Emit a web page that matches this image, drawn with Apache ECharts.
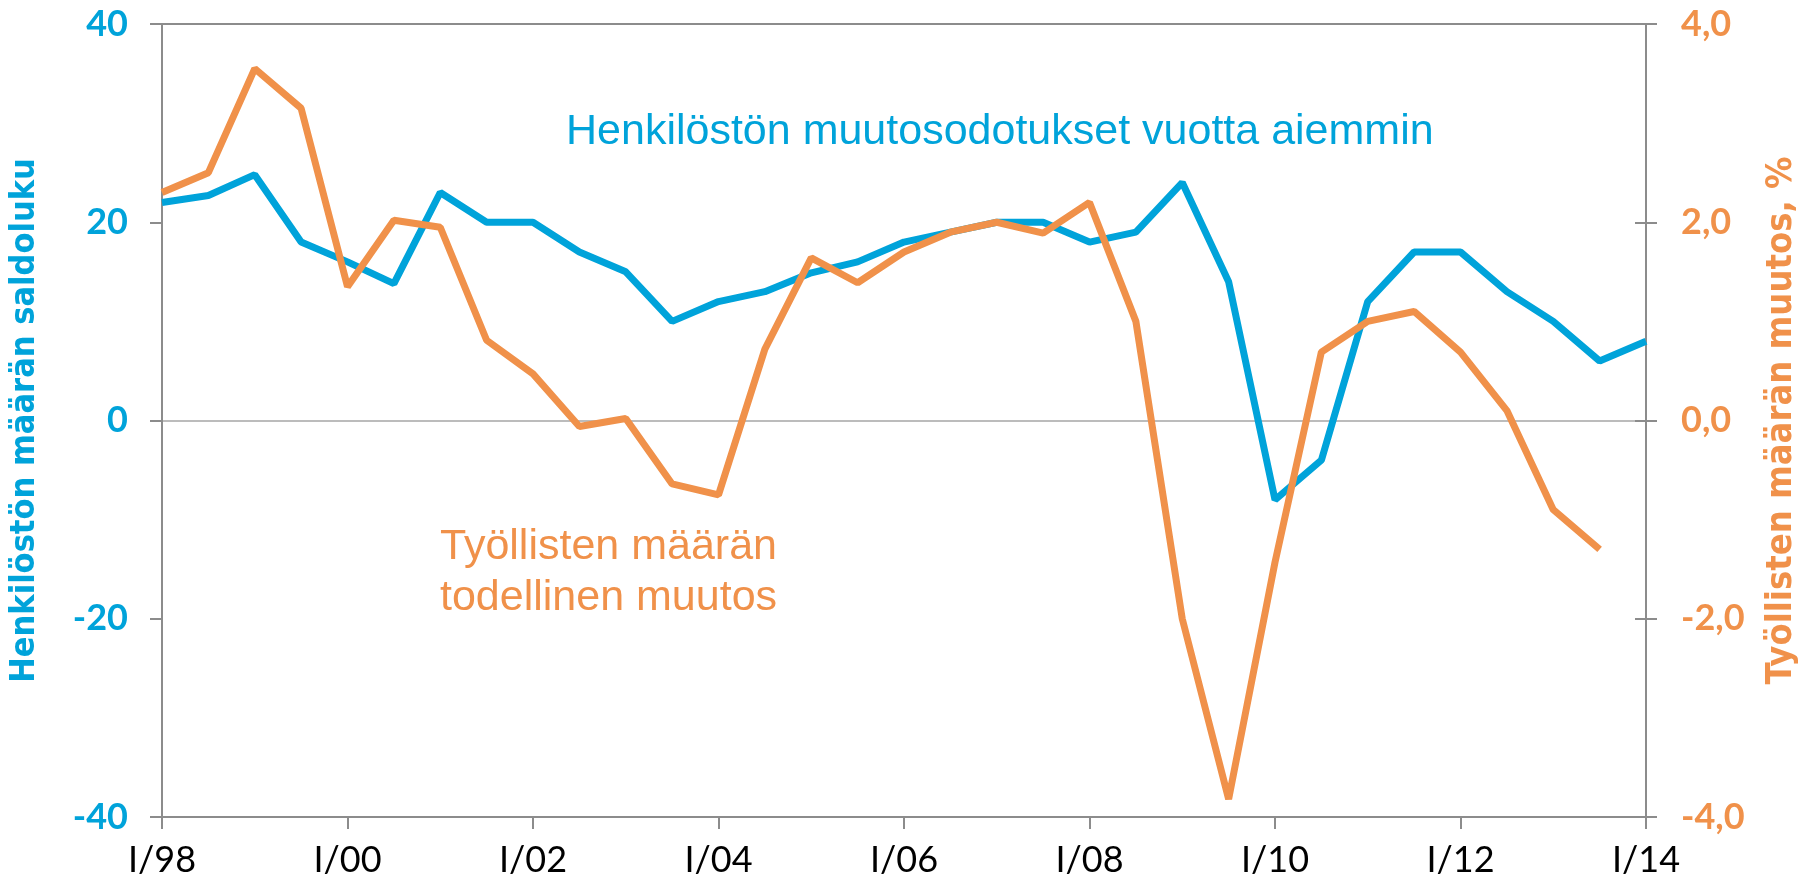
<!DOCTYPE html>
<html>
<head>
<meta charset="utf-8">
<script src="https://cdn.jsdelivr.net/npm/echarts@6/dist/echarts.min.js"></script>
<style>
  html, body { margin: 0; padding: 0; background: #fff; }
  #chart { width: 1808px; height: 879px; }
</style>
</head>
<body>
<div id="chart"></div>
<script>
// puolivuosittaiset havainnot I/98 ... I/14
var periods = [
  'I/98','III/98','I/99','III/99','I/00','III/00','I/01','III/01',
  'I/02','III/02','I/03','III/03','I/04','III/04','I/05','III/05',
  'I/06','III/06','I/07','III/07','I/08','III/08','I/09','III/09',
  'I/10','III/10','I/11','III/11','I/12','III/12','I/13','III/13','I/14'
];
// henkilöstön muutosodotukset vuotta aiemmin (saldoluku)
var odotukset = [
  22, 22.7, 24.8, 18, 16, 13.8, 23, 20,
  20, 17, 15, 10, 12, 13, 14.9, 16,
  18, 19, 20, 20, 18, 19, 24, 14,
  -8, -4, 12, 17, 17, 13, 10, 6, 8
];
// työllisten määrän todellinen muutos, %
var toteutunut = [
  2.3, 2.5, 3.55, 3.15, 1.35, 2.02, 1.95, 0.81,
  0.47, -0.06, 0.02, -0.64, -0.75, 0.72, 1.64, 1.39,
  1.7, 1.9, 2.0, 1.89, 2.2, 1.0, -2.0, -3.82,
  -1.43, 0.69, 1.0, 1.1, 0.69, 0.1, -0.9, -1.3, null
];

var blue = '#00A3DA', orange = '#F0914A', axisGrey = '#8c8c8c';

var chart = echarts.init(document.getElementById('chart'));

var option = {
  animation: false,
  grid: {
    left: 162, right: 161, top: 24, bottom: 62,
    show: true, borderColor: axisGrey, borderWidth: 2
  },
  xAxis: {
    type: 'category',
    data: periods,
    boundaryGap: false,
    axisLine: { onZero: false, lineStyle: { color: axisGrey, width: 2 } },
    axisTick: { interval: 3, length: 12, lineStyle: { color: axisGrey, width: 2 } },
    axisLabel: {
      interval: 3, margin: 25, color: '#000',
      fontFamily: 'Lato', fontSize: 36
    },
    splitLine: { show: false }
  },
  yAxis: [
    {
      type: 'value', position: 'left', min: -40, max: 40, interval: 20,
      name: 'Henkilöstön määrän saldoluku',
      nameLocation: 'middle', nameGap: 120,
      nameTextStyle: { color: blue, fontFamily: 'DejaVu Sans Condensed', fontWeight: 'bold', fontSize: 34 },
      axisLine: { show: true, lineStyle: { color: axisGrey, width: 2 } },
      axisTick: { show: true, length: 12, lineStyle: { color: axisGrey, width: 2 } },
      axisLabel: { margin: 34, color: blue, fontFamily: 'Lato', fontWeight: 'bold', fontSize: 36 },
      splitLine: {
        show: true,
        lineStyle: { color: ['transparent', 'transparent', '#a6a6a6', 'transparent', 'transparent'], width: 1.5 }
      }
    },
    {
      type: 'value', position: 'right', min: -4, max: 4, interval: 2,
      name: 'Työllisten määrän muutos, %',
      nameLocation: 'middle', nameGap: 118,
      nameTextStyle: { color: orange, fontFamily: 'DejaVu Sans Condensed', fontWeight: 'bold', fontSize: 36 },
      axisLine: { show: true, lineStyle: { color: axisGrey, width: 2 } },
      axisTick: { show: true, length: 11, lineStyle: { color: axisGrey, width: 2 } },
      axisLabel: {
        margin: 35, color: orange, fontFamily: 'Lato', fontWeight: 'bold', fontSize: 36,
        formatter: function (v) { return v.toFixed(1).replace('.', ','); }
      },
      splitLine: { show: false }
    },
    {
      // sisäpuolen tikit oikealle akselille
      type: 'value', position: 'right', min: -4, max: 4, interval: 2,
      axisLine: { show: false },
      axisTick: { show: true, inside: true, length: 11, lineStyle: { color: axisGrey, width: 2 } },
      axisLabel: { show: false },
      splitLine: { show: false }
    }
  ],
  graphic: [
    {
      type: 'text', x: 566, y: 132,
      style: {
        text: 'Henkilöstön muutosodotukset vuotta aiemmin',
        fill: blue, font: '43px "Liberation Sans"', verticalAlign: 'middle'
      }
    },
    {
      type: 'text', x: 440, y: 573,
      style: {
        text: 'Työllisten määrän\ntodellinen muutos',
        fill: orange, font: '43px "Liberation Sans"', lineHeight: 51, verticalAlign: 'middle'
      }
    }
  ],
  series: [
    {
      name: 'Henkilöstön muutosodotukset vuotta aiemmin',
      type: 'line', yAxisIndex: 0, data: odotukset,
      symbol: 'none', lineStyle: { color: blue, width: 7 }
    },
    {
      name: 'Työllisten määrän todellinen muutos',
      type: 'line', yAxisIndex: 1, data: toteutunut,
      symbol: 'none', lineStyle: { color: orange, width: 7 }
    }
  ]
};

chart.setOption(option);
</script>
</body>
</html>
